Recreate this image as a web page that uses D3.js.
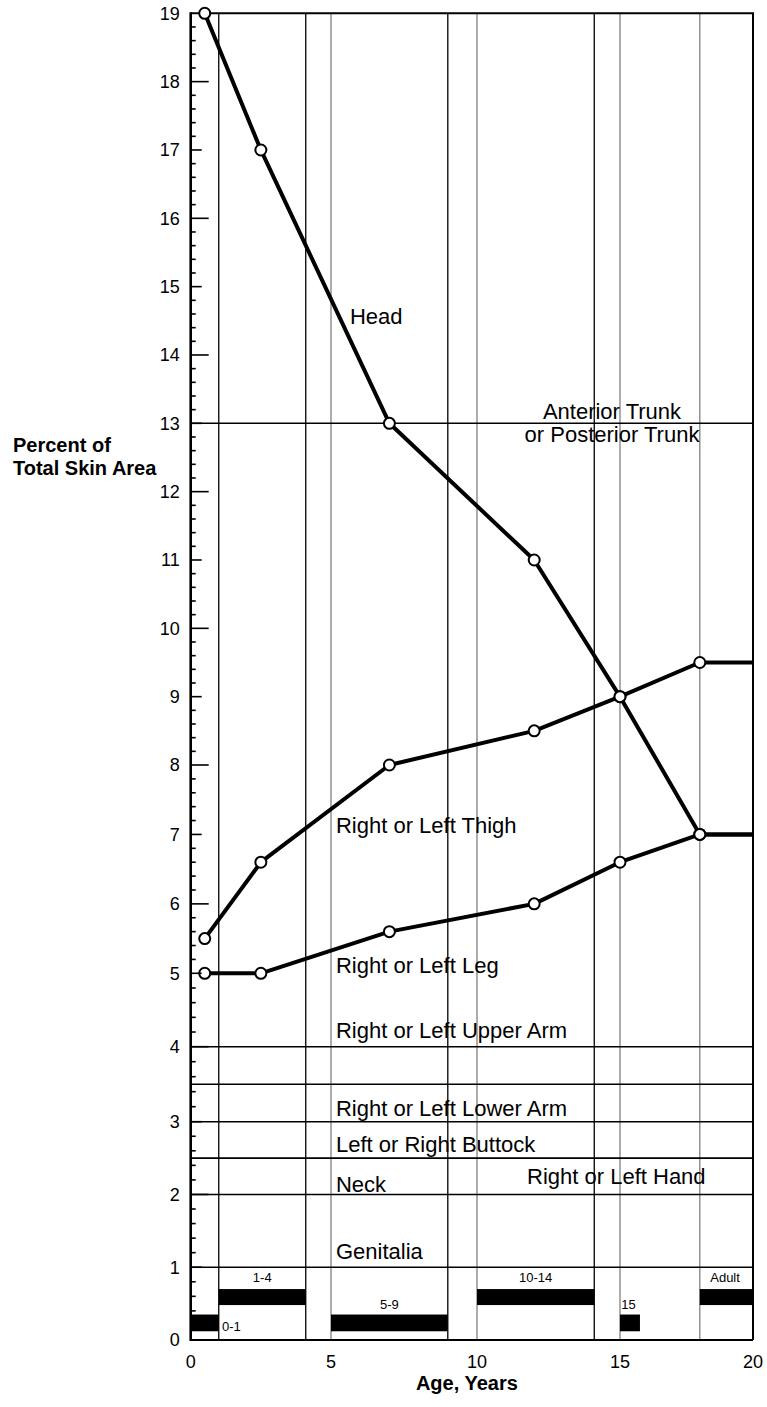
<!DOCTYPE html>
<html>
<head>
<meta charset="utf-8">
<script src="https://cdn.jsdelivr.net/npm/d3@7"></script>
<style>
    html, body { margin: 0; padding: 0; background: #fff; }
    svg text { font-family: "Liberation Sans", Arial, Helvetica, sans-serif; fill: #000; }
    .label { font-size: 22px; }
    .tick-label { font-size: 18px; }
    .axis-title { font-size: 20px; font-weight: bold; }
    .age-label { font-size: 13px; }
</style>
</head>
<body>
<svg id="viz"></svg>
<script>
(function () {
    // ages where the curves are sampled (last one is the flat run to the edge)
    let ages = [0.5, 2.5, 7, 12, 15, 18, 20]
    let headValues = [19, 17, 13, 11, 9, 7, 7]
    let thighValues = [5.5, 6.6, 8, 8.5, 9, 9.5, 9.5]
    let legValues = [5, 5, 5.6, 6, 6.6, 7, 7]
    let markedPoints = 6 // circles on the first six samples only

    let yTickValues = d3.range(0, 20)
    let xTickValues = [0, 5, 10, 15, 20]

    // constant-percentage parts drawn as horizontal rules
    let ruleValues = [13, 4, 3.5, 3, 2.5, 2, 1]
    // age-group boundaries
    let boundaryAges = [1, 4.1, 5, 9, 10, 14.1, 15, 18]
    let boundaryDark = [true, true, false, true, false, true, false, false]

    let ageGroups = ['0-1', '1-4', '5-9', '10-14', '15', 'Adult']
    let ageGroupStart = [0, 1, 5, 10, 15, 18]
    let ageGroupEnd = [1, 4.1, 9, 14.1, 15.75, 20]
    let ageGroupRow = [0, 1, 0, 1, 0, 1]
    let ageLabelAge = [1.45, 2.55, 7, 12.05, 15.05, 18.95]
    let ageLabelValue = [0.12, 0.8, 0.42, 0.8, 0.42, 0.8]

    let partNames = ['Head', 'Anterior Trunk', 'or Posterior Trunk', 'Right or Left Thigh',
        'Right or Left Leg', 'Right or Left Upper Arm', 'Right or Left Lower Arm',
        'Left or Right Buttock', 'Right or Left Hand', 'Neck', 'Genitalia']
    let partAge = [5.65, 14.72, 14.72, 5.17, 5.17, 5.17, 5.17, 5.17, 11.75, 5.17, 5.17]
    let partValue = [14.45, 13.06, 12.72, 7.02, 5.01, 4.12, 3.08, 2.59, 2.14, 2.03, 1.12]
    let partCentered = [false, true, true, false, false, false, false, false, false, false, false]

    let config = {
        w: 767,
        h: 1407,
        barRows: [[0.12, 0.35], [0.48, 0.7]]
    }

    function drawChart() {
        let svg = d3.select('#viz')
            .attr('width', config.w)
            .attr('height', config.h)

        // the printed grid is not evenly spaced, so both scales are piecewise
        let xScale = d3.scaleLinear()
            .domain([0, 5, 10, 15, 20])
            .range([190.7, 331, 477, 620, 753])
        let yScale = d3.scaleLinear()
            .domain([0, 3, 4, 5, 8, 19])
            .range([1340, 1121.7, 1046.7, 973.3, 765, 13.3])

        let left = xScale(0), right = xScale(20)
        let top = yScale(19), bottom = yScale(0)
        let gRoot = svg.append('g')

        // vertical age boundaries
        gRoot.selectAll('line.boundary')
            .data(boundaryAges)
            .enter().append('line')
            .attr('x1', d => xScale(d)).attr('x2', d => xScale(d))
            .attr('y1', top).attr('y2', bottom)
            .attr('stroke', (d, i) => boundaryDark[i] ? '#000' : '#808080')
            .attr('stroke-width', 1.3)

        // horizontal rules
        gRoot.selectAll('line.rule')
            .data(ruleValues)
            .enter().append('line')
            .attr('x1', left).attr('x2', right)
            .attr('y1', d => yScale(d)).attr('y2', d => yScale(d))
            .attr('stroke', '#000')
            .attr('stroke-width', 1.6)

        // frame: top and right
        gRoot.append('path')
            .attr('d', `M${left},${top}H${right}V${bottom}`)
            .attr('fill', 'none')
            .attr('stroke', '#000')
            .attr('stroke-width', 2)

        // age group bars
        ageGroups.forEach((name, i) => {
            let row = config.barRows[ageGroupRow[i]]
            gRoot.append('rect')
                .attr('x', xScale(ageGroupStart[i]))
                .attr('y', yScale(row[1]))
                .attr('width', xScale(ageGroupEnd[i]) - xScale(ageGroupStart[i]))
                .attr('height', yScale(row[0]) - yScale(row[1]))
                .attr('fill', '#000')
            gRoot.append('text')
                .classed('age-label', true)
                .attr('x', xScale(ageLabelAge[i]))
                .attr('y', yScale(ageLabelValue[i]))
                .attr('text-anchor', name === '15' ? 'start' : 'middle')
                .text(name)
        })

        // part labels
        partNames.forEach((name, i) => {
            gRoot.append('text')
                .classed('label', true)
                .attr('x', xScale(partAge[i]))
                .attr('y', yScale(partValue[i]))
                .attr('text-anchor', partCentered[i] ? 'middle' : 'start')
                .text(name)
        })

        // curves
        let line = d3.line()
            .x((d, i) => xScale(ages[i]))
            .y(d => yScale(d))
        let series = [headValues, thighValues, legValues]
        series.forEach(values => {
            gRoot.append('path')
                .datum(values)
                .attr('d', line)
                .attr('fill', 'none')
                .attr('stroke', '#000')
                .attr('stroke-width', 4)
                .attr('stroke-linejoin', 'round')
        })
        series.forEach(values => {
            gRoot.selectAll(null)
                .data(values.slice(0, markedPoints))
                .enter().append('circle')
                .attr('cx', (d, i) => xScale(ages[i]))
                .attr('cy', d => yScale(d))
                .attr('r', 5.5)
                .attr('fill', '#fff')
                .attr('stroke', '#000')
                .attr('stroke-width', 2)
        })

        // y axis with inward ticks: minor every 0.2, longer on even numbers
        let minorTicks = d3.range(0, 95).map(k => k / 5)
        gRoot.selectAll('line.ytick')
            .data(minorTicks)
            .enter().append('line')
            .attr('x1', left)
            .attr('x2', (d, i) => left + (i % 5 !== 0 ? 5 : (i % 10 === 0 ? 18 : 11)))
            .attr('y1', d => yScale(d)).attr('y2', d => yScale(d))
            .attr('stroke', '#000')
            .attr('stroke-width', 1.6)
        gRoot.append('line')
            .attr('x1', left).attr('x2', left)
            .attr('y1', top - 1).attr('y2', bottom + 1)
            .attr('stroke', '#000')
            .attr('stroke-width', 2.6)
        gRoot.append('line')
            .attr('x1', left).attr('x2', right)
            .attr('y1', bottom).attr('y2', bottom)
            .attr('stroke', '#000')
            .attr('stroke-width', 2)

        gRoot.selectAll('text.ytl')
            .data(yTickValues)
            .enter().append('text')
            .classed('tick-label', true)
            .attr('x', left - 11)
            .attr('y', d => yScale(d))
            .attr('dy', '0.35em')
            .attr('text-anchor', 'end')
            .text(d => d)
        gRoot.selectAll('text.xtl')
            .data(xTickValues)
            .enter().append('text')
            .classed('tick-label', true)
            .attr('x', d => xScale(d))
            .attr('y', bottom + 28)
            .attr('text-anchor', 'middle')
            .text(d => d)

        // axis titles
        gRoot.append('text')
            .classed('axis-title', true)
            .attr('x', (left + right) / 2 - 5)
            .attr('y', bottom + 50)
            .attr('text-anchor', 'middle')
            .text('Age, Years')
        let yTitle = gRoot.append('text')
            .classed('axis-title', true)
            .attr('x', 13)
            .attr('y', yScale(12.58))
        yTitle.append('tspan').attr('x', 13).text('Percent of')
        yTitle.append('tspan').attr('x', 13).attr('dy', 22.5).text('Total Skin Area')
    }

    drawChart()
})()
</script>
</body>
</html>
